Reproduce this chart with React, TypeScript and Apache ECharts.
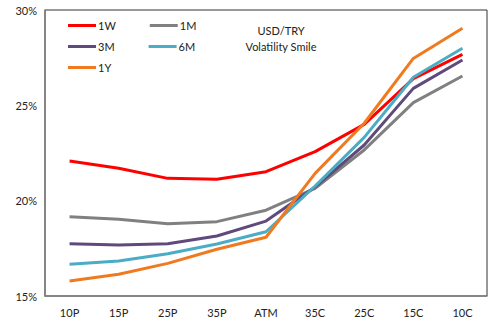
import React, { useEffect, useRef } from "react";
import * as echarts from "echarts";

const categories = ["10P", "15P", "25P", "35P", "ATM", "35C", "25C", "15C", "10C"];
const w1 = [22.08, 21.7, 21.17, 21.12, 21.52, 22.57, 24.0, 26.4, 27.67];
const m1 = [19.16, 19.02, 18.79, 18.9, 19.5, 20.65, 22.66, 25.14, 26.54];
const m3 = [17.74, 17.67, 17.74, 18.15, 18.93, 20.72, 22.92, 25.89, 27.38];
const m6 = [16.66, 16.84, 17.22, 17.73, 18.37, 20.77, 23.32, 26.47, 27.99];
const y1 = [15.79, 16.14, 16.71, 17.45, 18.08, 21.43, 24.06, 27.46, 29.04];
const seriesNames = ["1W", "1M", "3M", "6M", "1Y"];
const colors = ["#FF0000", "#808080", "#604A7B", "#4BACC6", "#F07A20"];
const FONT = "Lato, 'Open Sans', sans-serif";

export default function App() {
  const ref = useRef<HTMLDivElement>(null);
  useEffect(() => {
    if (!ref.current) return;
    const chart = echarts.init(ref.current, undefined, { renderer: "svg" });
    const data = [w1, m1, m3, m6, y1];
    const legendBase = {
      left: 68,
      icon: "rect",
      itemWidth: 28,
      itemHeight: 3,
      itemGap: 34,
      textStyle: { fontFamily: FONT, fontSize: 11, color: "#222", padding: [0, 0, 0, -3] },
      padding: 0,
    };
    chart.setOption({
      animation: false,
      color: colors,
      textStyle: { fontFamily: FONT },
      title: {
        text: "USD/TRY\nVolatility Smile",
        left: 276,
        top: 17,
        textAlign: "center",
        textStyle: { fontFamily: FONT, fontSize: 11, fontWeight: "normal", color: "#222", lineHeight: 16 },
      },
      legend: [
        { ...legendBase, top: 20, data: ["1W", "1M"] },
        { ...legendBase, top: 41, data: ["3M", "6M"] },
        { ...legendBase, top: 62, data: ["1Y"] },
      ],
      grid: { left: 45, right: 5, top: 10, bottom: 26, show: true, borderColor: "#333", borderWidth: 1 },
      xAxis: {
        type: "category",
        data: categories,
        boundaryGap: true,
        axisLine: { lineStyle: { color: "#808080", width: 1.5 } },
        axisTick: { show: false },
        axisLabel: { fontFamily: FONT, fontSize: 11, color: "#222", margin: 11 },
      },
      yAxis: {
        type: "value",
        min: 15,
        max: 30,
        interval: 5,
        axisLine: { show: true, lineStyle: { color: "#808080", width: 1.5 } },
        axisTick: { show: false },
        splitLine: { show: false },
        axisLabel: { fontFamily: FONT, fontSize: 11, color: "#222", margin: 8, formatter: "{value}%" },
      },
      series: seriesNames.map((n, i) => ({
        name: n,
        type: "line",
        data: data[i],
        symbol: "none",
        lineStyle: { width: 3, color: colors[i] },
        itemStyle: { color: colors[i] },
      })),
    });
    return () => chart.dispose();
  }, []);
  return <div ref={ref} style={{ width: 492, height: 322, position: "absolute", left: 0, top: 0 }} />;
}
